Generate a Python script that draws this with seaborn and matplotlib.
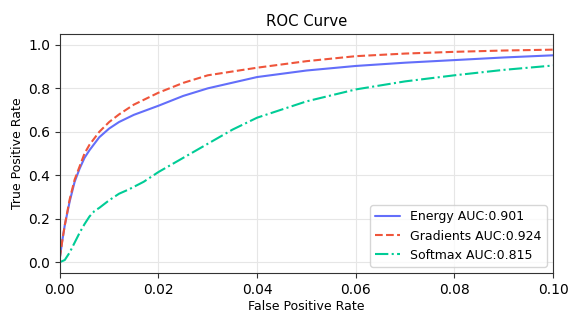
import numpy as np
import pandas as pd
import matplotlib
matplotlib.use("Agg")
import matplotlib.pyplot as plt
import seaborn as sns

# FPR grid
fpr = [0, 0.0005, 0.001, 0.002, 0.003, 0.004, 0.005, 0.006, 0.008, 0.010,
       0.012, 0.015, 0.02, 0.025, 0.03, 0.04, 0.05, 0.06, 0.07, 0.08, 0.09, 0.10]
energy_tpr = [0.02, 0.10, 0.17, 0.28, 0.37, 0.43, 0.48, 0.515, 0.575, 0.615,
              0.645, 0.678, 0.72, 0.765, 0.80, 0.852, 0.882, 0.903, 0.918, 0.93, 0.942, 0.952]
grad_tpr = [0.02, 0.10, 0.17, 0.29, 0.38, 0.44, 0.50, 0.54, 0.60, 0.645,
            0.68, 0.725, 0.78, 0.825, 0.86, 0.895, 0.925, 0.948, 0.96, 0.968, 0.974, 0.978]

soft_fpr = [0, 0.001, 0.002, 0.003, 0.004, 0.005, 0.006, 0.007, 0.008, 0.010, 0.012,
            0.014, 0.017, 0.02, 0.025, 0.03, 0.035, 0.04, 0.05, 0.06, 0.07, 0.08, 0.09, 0.10]
soft_tpr = [0.0, 0.01, 0.045, 0.09, 0.135, 0.175, 0.21, 0.235, 0.25, 0.285, 0.315,
            0.335, 0.37, 0.415, 0.48, 0.545, 0.61, 0.665, 0.74, 0.795, 0.832, 0.86, 0.885, 0.905]

labels = ["Energy AUC:0.901", "Gradients AUC:0.924", "Softmax AUC:0.815"]
colors = ["#636EFA", "#EF553B", "#00CC96"]

sns.set_style("ticks", rc={"text.color": "black", "axes.labelcolor": "black",
                           "xtick.color": "black", "ytick.color": "black"})
plt.rcParams['font.family'] = ['DejaVu Sans']

fig, ax = plt.subplots(figsize=(5.81, 3.27), dpi=100)
fig.subplots_adjust(left=0.103, right=0.952, top=0.896, bottom=0.165)

sns.lineplot(x=fpr, y=energy_tpr, ax=ax, color=colors[0], label=labels[0], linewidth=1.5)
sns.lineplot(x=fpr, y=grad_tpr, ax=ax, color=colors[1], label=labels[1], linewidth=1.5, linestyle="--")
sns.lineplot(x=soft_fpr, y=soft_tpr, ax=ax, color=colors[2], label=labels[2], linewidth=1.5, linestyle="-.")

ax.set_xlim(0, 0.1)
ax.set_ylim(-0.05, 1.05)
ax.set_xticks([0, 0.02, 0.04, 0.06, 0.08, 0.10])
ax.set_xticklabels(["0.00", "0.02", "0.04", "0.06", "0.08", "0.10"])
ax.set_yticks([0, 0.2, 0.4, 0.6, 0.8, 1.0])
ax.grid(True, color="#e6e6e6", linewidth=0.8)
for s in ax.spines.values():
    s.set_color("#333333")
ax.tick_params(labelsize=10, length=3.5, color="#333333")
ax.set_title("ROC Curve", fontsize=10.7)
ax.set_xlabel("False Positive Rate", fontsize=9, labelpad=2)
ax.set_ylabel("True Positive Rate", fontsize=9, labelpad=3)
ax.legend(loc="lower right", fontsize=9, frameon=True, fancybox=True, framealpha=0.8)

plt.savefig("out.png", dpi=100)
